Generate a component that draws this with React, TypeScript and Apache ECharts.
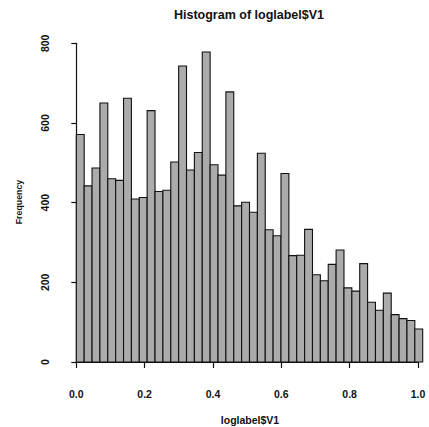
import React, { useEffect, useRef } from "react";
import * as echarts from "echarts";

const binStart = 0;
const binWidth = 0.02304;
const counts = [
  571, 442, 487, 650, 460, 456, 662, 409, 413, 631, 428, 431, 502, 743, 482,
  526, 778, 495, 469, 678, 392, 401, 376, 524, 332, 317, 473, 267, 268, 333,
  219, 204, 245, 281, 186, 178, 247, 150, 130, 173, 119, 109, 104, 83,
];
const xTicks = [0, 0.2, 0.4, 0.6, 0.8, 1.0];
const yTicks = [0, 200, 400, 600, 800];
const titleText = "Histogram of loglabel$V1";
const xLabel = "loglabel$V1";
const yLabel = "Frequency";

const FONT = "'Liberation Sans', Arial, sans-serif";

export default function App() {
  const ref = useRef<HTMLDivElement>(null);
  useEffect(() => {
    if (!ref.current) return;
    const chart = echarts.init(ref.current, null, { renderer: "svg" });
    const data = counts.map((c, i) => [
      binStart + i * binWidth,
      binStart + (i + 1) * binWidth,
      c,
    ]);
    chart.setOption({
      animation: false,
      backgroundColor: "#ffffff",
      grid: { left: 76.3, right: 11, top: 43.3, bottom: 65, containLabel: false },
      xAxis: {
        type: "value",
        min: xTicks[0],
        max: xTicks[xTicks.length - 1],
        interval: 0.2,
        offset: 13,
        splitLine: { show: false },
        axisLine: { show: true, lineStyle: { color: "#111", width: 1.2 } },
        axisTick: { show: true, length: 6, lineStyle: { color: "#111", width: 1.2 } },
        axisLabel: {
          margin: 13,
          color: "#111",
          fontFamily: FONT,
          fontWeight: "bold",
          fontSize: 10.5,
          formatter: (v: number) => v.toFixed(1),
        },
      },
      yAxis: {
        type: "value",
        min: yTicks[0],
        max: yTicks[yTicks.length - 1],
        interval: 200,
        offset: 14,
        splitLine: { show: false },
        axisLine: { show: true, lineStyle: { color: "#111", width: 1.2 } },
        axisTick: { show: true, length: 5, lineStyle: { color: "#111", width: 1.2 } },
        axisLabel: {
          margin: 12,
          rotate: 90,
          color: "#111",
          fontFamily: FONT,
          fontWeight: "bold",
          fontSize: 10.5,
        },
      },
      graphic: [
        {
          type: "text",
          x: 249,
          y: 15,
          style: {
            text: titleText,
            align: "center",
            verticalAlign: "middle",
            font: `bold 12.5px ${FONT}`,
            fill: "#111",
          },
        },
        {
          type: "text",
          x: 250,
          y: 420,
          style: {
            text: xLabel,
            align: "center",
            verticalAlign: "middle",
            font: `bold 10.5px ${FONT}`,
            fill: "#111",
          },
        },
        {
          type: "text",
          x: 19,
          y: 202,
          rotation: Math.PI / 2,
          style: {
            text: yLabel,
            align: "center",
            verticalAlign: "middle",
            font: `bold 8.8px ${FONT}`,
            fill: "#111",
          },
        },
      ],
      series: [
        {
          type: "custom",
          encode: { x: [0, 1], y: 2 },
          data,
          renderItem: (params: any, api: any) => {
            const p0 = api.coord([api.value(0), api.value(2)]);
            const p1 = api.coord([api.value(1), 0]);
            return {
              type: "rect",
              shape: {
                x: p0[0],
                y: p0[1],
                width: p1[0] - p0[0],
                height: p1[1] - p0[1],
              },
              style: { fill: "#ababab", stroke: "#111", lineWidth: 1.1 },
            };
          },
        },
      ],
    });
    return () => chart.dispose();
  }, []);
  return (
    <div
      ref={ref}
      style={{ position: "absolute", left: 0, top: 0, width: 429, height: 427 }}
    />
  );
}
